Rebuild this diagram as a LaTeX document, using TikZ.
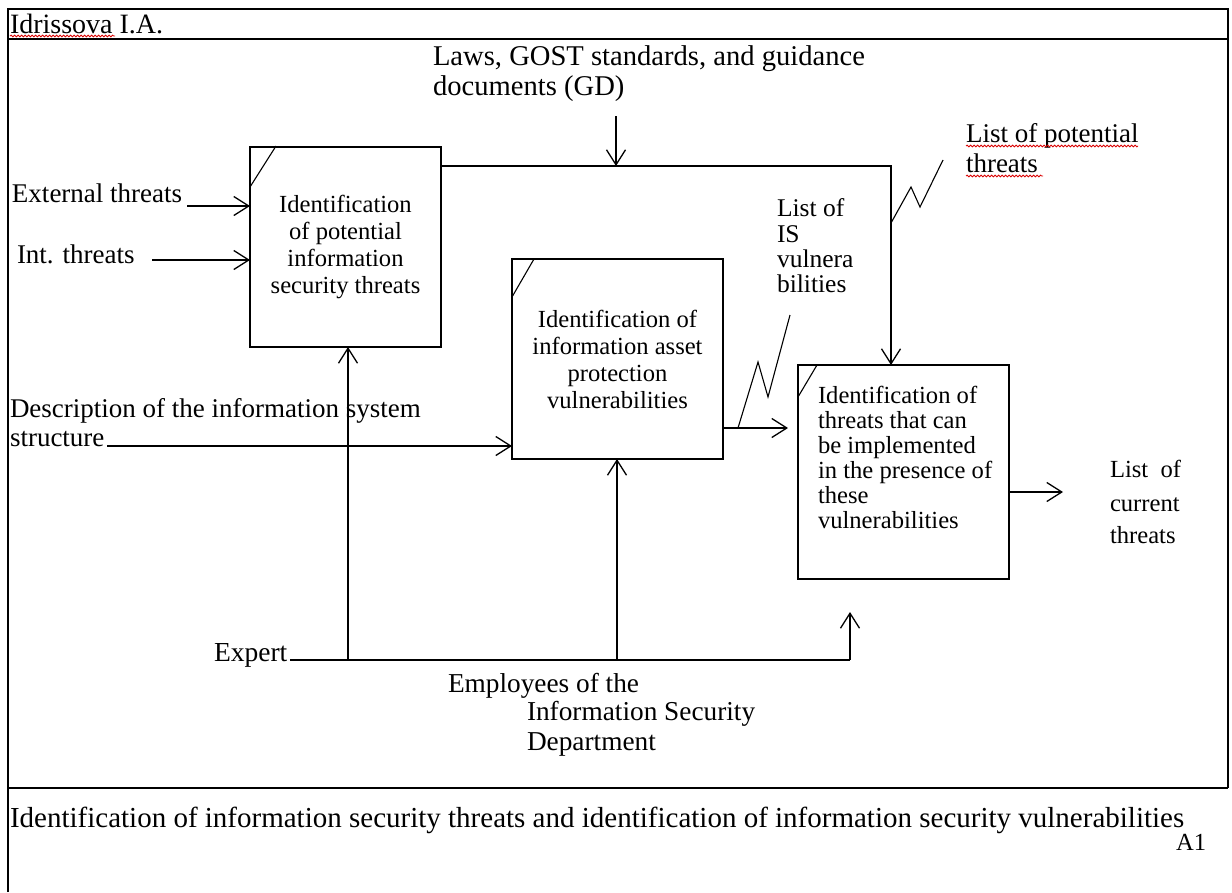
\documentclass[tikz,border=0pt]{standalone}
\usepackage{fontspec}
\setmainfont{Liberation Serif}
\usetikzlibrary{arrows.meta,decorations.pathmorphing,calc}

\begin{document}
\begin{tikzpicture}[x=1pt,y=-1pt,
  every node/.style={inner sep=0pt, outer sep=0pt},
  lbl/.style={font=\fontsize{27}{28}\selectfont, anchor=base west},
  small/.style={lbl, font=\fontsize{24.6}{25}\selectfont},
  big/.style={lbl, font=\fontsize{28.6}{30}\selectfont},
  frame/.style={line width=2pt},
  sep/.style={line width=2.4pt},
  fn/.style={draw, line width=1.3pt, fill=white, font=\fontsize{24.6}{27}\selectfont, align=center},
  ln/.style={line width=1.3pt},
  arr/.style={line width=1.3pt, -{Straight Barb[length=15pt,width=19pt,line width=1.3pt]}},
  zz/.style={line width=1.1pt},
  tick/.style={line width=1.1pt},
  wavy/.style={red!85!black, line width=0.8pt, decorate,
    decoration={snake, amplitude=0.9pt, segment length=3.5pt}}
]
\useasboundingbox (0,0) rectangle (1232,892);

% form frame
\draw[frame] (8,892) -- (8,9) -- (1228,9) -- (1228,788);
\draw[sep] (8,39) -- (1228,39);
\draw[sep] (8,788) -- (1228,788);

% header
\node[lbl, font=\fontsize{28}{30}\selectfont] (author) at (10,33) {Idrissova I.A.};
\draw[wavy] (10,36) -- (115,36);

% function blocks
\node[fn, minimum width=191pt, minimum height=200pt] (b1) at (345.5,247)
  {Identification\\of potential\\information\\security threats};
\node[fn, minimum width=211pt, minimum height=200pt] (b2) at (617.5,359)
  {Identification of\\information asset\\protection\\vulnerabilities};
\node[fn, minimum width=211pt, minimum height=214pt] (b3) at (903.5,472) {};
\node[small] (t3a) at (818,403) {Identification of};
\node[small] (t3b) at (818,428) {threats that can};
\node[small] (t3c) at (818,453) {be implemented};
\node[small] (t3d) at (818,478) {in the presence of};
\node[small] (t3e) at (818,503) {these};
\node[small] (t3f) at (818,528) {vulnerabilities};

% corner ticks
\draw[tick] ($(b1.north west)+(0,40)$) -- ($(b1.north west)+(26,-1)$);
\draw[tick] ($(b2.north west)+(0,38)$) -- ($(b2.north west)+(22,0)$);
\draw[tick] ($(b3.north west)+(0,32)$) -- ($(b3.north west)+(19,0)$);

% inputs of block 1
\node[lbl] (ext) at (12,202) {External threats};
\node[lbl] (int) at (17,263) {Int. threats};
\coordinate (extS) at (187,206);
\coordinate (intS) at (152,260);
\draw[arr] (extS) -- (extS -| b1.west);
\draw[arr] (intS) -- (intS -| b1.west);

% controls
\node[big] (laws1) at (433,65) {Laws, GOST standards, and guidance};
\node[big] (laws2) at (433,95) {documents (GD)};
\coordinate (lawsS) at (616,116);
\coordinate (b1o) at (441,166);
\coordinate (corner) at (891,166);
\draw[arr] (lawsS) -- (lawsS |- corner);
\draw[arr] (b1o) -- (corner) -- (corner |- b3.north);

% list of potential threats
\node[lbl] (pot1) at (966,142) {List of potential};
\node[lbl] (pot2) at (966,172) {threats};
\draw[wavy] (966,146) -- (1138,146);
\draw[wavy] (966,176) -- (1043,176);
\draw[zz] (891,223) -- (911,187) -- (920,207) -- (943,160);

% description input
\node[lbl] (desc1) at (10,417) {Description of the information system};
\node[lbl] (desc2) at (10,446) {structure};
\coordinate (descS) at (107,446);
\draw[arr] (descS) -- (descS -| b2.west);

% block 2 output
\coordinate (b2o) at (723,428);
\draw[arr, shorten >=10pt] (b2o) -- (b2o -| b3.west);
\draw[zz] (738,428) -- (758,362) -- (768,397) -- (790,315);
\node[lbl, font=\fontsize{25.5}{26}\selectfont] (vul1) at (777,216) {List of};
\node[lbl, font=\fontsize{25.5}{26}\selectfont] (vul2) at (777,242) {IS};
\node[lbl, font=\fontsize{25.5}{26}\selectfont] (vul3) at (777,267) {vulnera};
\node[lbl, font=\fontsize{25.5}{26}\selectfont] (vul4) at (777,292) {bilities};

% block 3 output
\coordinate (b3o) at (1009,492);
\coordinate (outE) at (1063,492);
\draw[arr] (b3o) -- (outE);
\node[small] (cur1) at (1110,477) {List\ \ of};
\node[small] (cur2) at (1110,511) {current};
\node[small] (cur3) at (1110,543) {threats};

% mechanisms
\node[lbl, font=\fontsize{27.5}{28}\selectfont] (expert) at (214,661) {Expert};
\coordinate (expS) at (290,660);
\coordinate (m1) at (348,660);
\coordinate (m2) at (617,660);
\coordinate (expE) at (850,660);
\coordinate (expT) at (850,612);
\draw[ln] (expS) -- (expE);
\draw[arr] (expE) -- (expT);
\draw[arr] (m1) -- (m1 |- b1.south);
\draw[arr] (m2) -- (m2 |- b2.south);
\node[lbl, font=\fontsize{27.3}{28}\selectfont] (emp1) at (448,692) {Employees of the};
\node[lbl, font=\fontsize{27.3}{28}\selectfont] (emp2) at (527,720) {Information Security};
\node[lbl, font=\fontsize{27.3}{28}\selectfont] (emp3) at (527,750) {Department};

% title row
\node[big, font=\fontsize{29}{30}\selectfont] (title) at (10,827) {Identification of information security threats and identification of information security vulnerabilities};
\node[small] (num) at (1176,850) {A1};
\end{tikzpicture}
\end{document}
